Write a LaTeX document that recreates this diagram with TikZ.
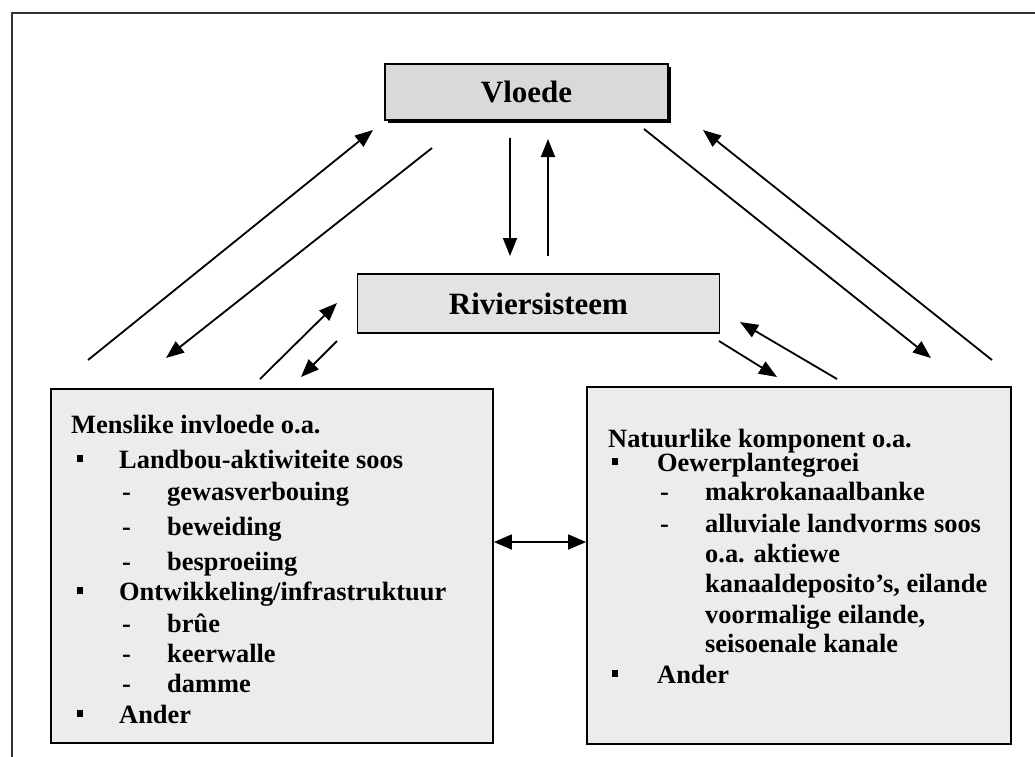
\documentclass[tikz,border=0pt]{standalone}
\usepackage{fontspec}
\setmainfont{Liberation Serif}
\usetikzlibrary{arrows.meta}
\definecolor{vfill}{HTML}{D9D9D9}
\definecolor{rfill}{HTML}{E3E3E3}
\definecolor{bfill}{HTML}{ECECEC}
\newcommand\blt{\raisebox{6pt}{\rule{6pt}{7pt}}}
\tikzset{
  box/.style={draw=black, line width=1.8pt, inner sep=0pt},
  title/.style={font=\fontsize{31}{36}\selectfont\bfseries},
  txt/.style={anchor=base west, inner sep=0pt, font=\fontsize{26.4}{30}\selectfont\bfseries},
  arr/.style={line width=1.8pt, -{Triangle[length=18pt,width=14pt]}},
  dblarr/.style={line width=1.8pt, {Triangle[length=18pt,width=15pt]}-{Triangle[length=18pt,width=15pt]}}
}
\begin{document}
\begin{tikzpicture}[x=1pt,y=-1pt]
\useasboundingbox (0,0) rectangle (1035,756);
% outer frame
\draw[line width=1.6pt, black!80] (12,760) -- (12,13) -- (1040,13);
% Vloede with shadow
\fill[black] (388,67) rectangle (671,123);
\node[box, fill=vfill, minimum width=283pt, minimum height=56pt, title] (vl) at (526.5,92) {Vloede};
% Riviersisteem
\node[box, fill=rfill, minimum width=362pt, minimum height=59pt, title] (rs) at (538.5,303.5) {Riviersisteem};
% big boxes
\node[box, fill=bfill, minimum width=442pt, minimum height=354pt] (lb) at (272,566) {};
\node[box, fill=bfill, minimum width=424pt, minimum height=357pt] (rb) at (799,565.5) {};
% left box text
\node[txt] (l1) at (71,433) {Menslike invloede o.a.};
\node[txt] (l2) at (77,468) {\makebox[42pt][l]{\blt}Landbou-aktiwiteite soos};
\node[txt] (l3) at (122,500) {\makebox[45pt][l]{-}gewasverbouing};
\node[txt] (l4) at (122,535) {\makebox[45pt][l]{-}beweiding};
\node[txt] (l5) at (122,570) {\makebox[45pt][l]{-}besproeiing};
\node[txt] (l6) at (77,600) {\makebox[42pt][l]{\blt}Ontwikkeling/infrastruktuur};
\node[txt] (l7) at (122,632) {\makebox[45pt][l]{-}brûe};
\node[txt] (l8) at (122,662) {\makebox[45pt][l]{-}keerwalle};
\node[txt] (l9) at (122,692) {\makebox[45pt][l]{-}damme};
\node[txt] (l10) at (77,723) {\makebox[42pt][l]{\blt}Ander};
% right box text
\node[txt] (r1) at (608,447) {Natuurlike komponent o.a.};
\node[txt] (r2) at (612,471) {\makebox[45pt][l]{\blt}Oewerplantegroei};
\node[txt] (r3) at (660,500) {\makebox[45pt][l]{-}makrokanaalbanke};
\node[txt] (r4) at (660,532) {\makebox[45pt][l]{-}alluviale landvorms soos};
\node[txt] (r5) at (705,562) {o.a. aktiewe};
\node[txt] (r6) at (705,592) {kanaaldeposito’s, eilande};
\node[txt] (r7) at (705,623) {voormalige eilande,};
\node[txt] (r8) at (705,652) {seisoenale kanale};
\node[txt] (r9) at (612,683) {\makebox[45pt][l]{\blt}Ander};
% arrow end points
\coordinate (a1s) at (88,360);  \coordinate (a1e) at (373,130);
\coordinate (a2s) at (432,148); \coordinate (a2e) at (166,358);
\coordinate (a3s) at (510,138); \coordinate (a3e) at (510,256);
\coordinate (a4s) at (548,256); \coordinate (a4e) at (548,139);
\coordinate (a5s) at (644,129); \coordinate (a5e) at (931,358);
\coordinate (a6s) at (992,360); \coordinate (a6e) at (703,130);
\coordinate (a7s) at (260,379); \coordinate (a7e) at (337,303);
\coordinate (a8s) at (337,341); \coordinate (a8e) at (301,377);
\coordinate (a9s) at (719,341); \coordinate (a9e) at (777,377);
\coordinate (a10s) at (837,379); \coordinate (a10e) at (740,322);
\foreach \i in {1,...,10} { \draw[arr] (a\i s) -- (a\i e); }
% double arrow
\coordinate (dl) at ([yshift=24pt]lb.east);
\draw[dblarr] (dl) -- (dl -| rb.west);
\end{tikzpicture}
\end{document}
